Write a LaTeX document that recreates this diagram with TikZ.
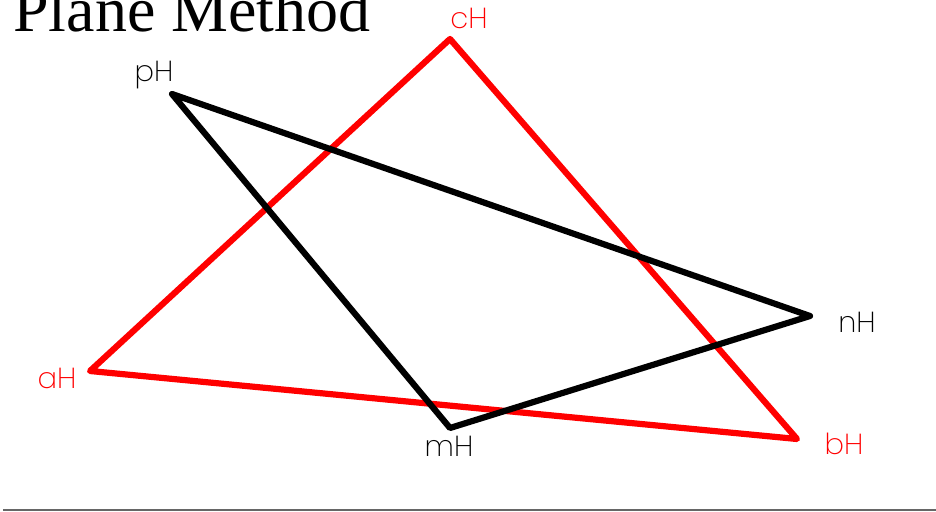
\documentclass[tikz,border=0pt]{standalone}
\usepackage{fontspec}
\setmainfont{Liberation Serif}
\newfontfamily\lblfont{Poppins}[UprightFont=* ExtraLight]
\usetikzlibrary{positioning}

\begin{document}
\begin{tikzpicture}[x=0.5pt,y=-0.5pt,
  edge/.style={line width=3.1pt,line join=round,line cap=round},
  lbl/.style={font=\lblfont\fontsize{14.5}{16}\selectfont,inner sep=0pt}]
 \useasboundingbox (0,0) rectangle (936,512);
 \node[anchor=base west,inner sep=0pt,font=\fontsize{32}{36}\selectfont] (title) at (13,32) {Plane Method};

 % first triangle
 \coordinate (aH) at (90,371);
 \coordinate (cH) at (450,39);
 \coordinate (bH) at (797,439);
 % second triangle
 \coordinate (pH) at (172,94);
 \coordinate (nH) at (810,316);
 \coordinate (mH) at (450,428);

 \draw[edge,red] (aH)--(cH)--(bH)--cycle;
 \draw[edge,black] (pH)--(nH)--(mH)--cycle;

 \node[lbl,red] (aHl) at (57,378) {aH};
 \node[lbl,red] (cHl) at (469,18) {cH};
 \node[lbl,red] (bHl) at (844,444) {bH};
 \node[lbl] (pHl) at (154,75) {pH};
 \node[lbl] (nHl) at (857,322) {nH};
 \node[lbl] (mHl) at (449,446) {mH};

 \draw[gray!80!black,line width=0.8pt] (3,510)--(936,510);
\end{tikzpicture}
\end{document}
